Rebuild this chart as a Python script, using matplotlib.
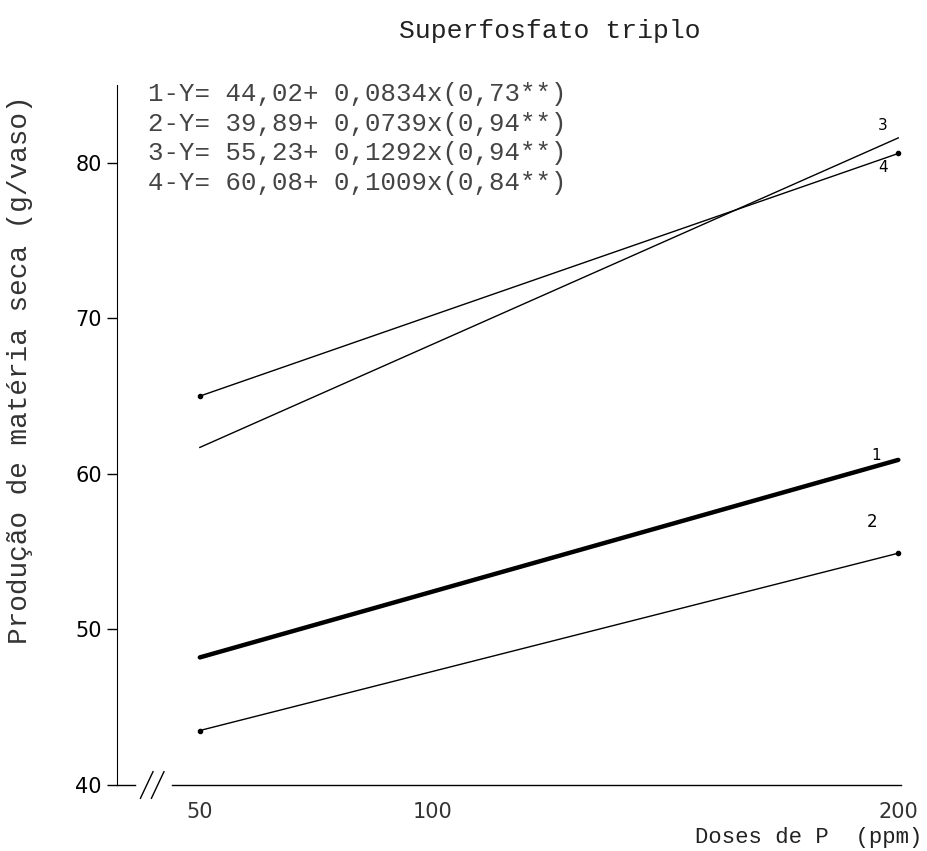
import matplotlib.pyplot as plt

doses = [50, 200]
y1 = [48.2, 60.9]
y2 = [43.5, 54.9]
y3 = [61.7, 81.6]
y4 = [65.0, 80.6]

equations = ["1-Y= 44,02+ 0,0834x(0,73**)",
             "2-Y= 39,89+ 0,0739x(0,94**)",
             "3-Y= 55,23+ 0,1292x(0,94**)",
             "4-Y= 60,08+ 0,1009x(0,84**)"]

mono = "Liberation Mono"

fig = plt.figure(figsize=(9.28, 8.51), dpi=100)
ax = fig.add_axes([0.126, 0.0776, 0.845, 0.8225])

ax.plot(doses, y1, color='k', lw=3.2, solid_capstyle='round')
ax.plot(doses, y2, color='k', lw=1.0, marker='o', ms=3)
ax.plot(doses, y3, color='k', lw=1.0)
ax.plot(doses, y4, color='k', lw=1.0, marker='o', ms=3)

# curve numbers at the right end
ax.text(195.3, 61.2, "1", fontsize=11, ha='center', va='center')
ax.text(194.4, 56.9, "2", fontsize=12, ha='center', va='center')
ax.text(196.6, 82.4, "3", fontsize=11, ha='center', va='center')
ax.text(196.8, 79.7, "4", fontsize=11, ha='center', va='center')

ax.set_xlim(32.2, 200.6)
ax.set_ylim(40, 85)
ax.set_xticks([50, 100, 200])
ax.set_xticklabels(["50", "100", "200"], fontsize=15, color='#333333')
ax.set_yticks([40, 50, 60, 70, 80])
ax.tick_params(axis='x', length=0, pad=12)
ax.tick_params(axis='y', length=7, width=1, labelsize=15, pad=4)

ax.spines['top'].set_visible(False)
ax.spines['right'].set_visible(False)
ax.spines['bottom'].set_visible(False)

# broken x axis
ax.plot([0, 0.023], [0, 0], transform=ax.transAxes, color='k', lw=1, clip_on=False)
ax.plot([0.070, 1], [0, 0], transform=ax.transAxes, color='k', lw=1, clip_on=False)
for dx in (0.038, 0.052):
    ax.plot([dx - 0.008, dx + 0.008], [-0.019, 0.019], transform=ax.transAxes,
            color='k', lw=1, clip_on=False)

for i, eq in enumerate(equations):
    fig.text(0.1595, 1 - (94 + 29.7 * i) / 851, eq, fontsize=18.5,
             family=mono, va='center', color='#444444')

fig.text(0.593, 0.964, "Superfosfato triplo", fontsize=19, family=mono,
         ha='center', va='center', color='#222222')
fig.text(0.022, 0.566, "Produção de matéria seca (g/vaso)", fontsize=20,
         family=mono, rotation=90, ha='center', va='center', color='#333333')
fig.text(0.9935, 0.0153, "Doses de P  (ppm)", fontsize=16, family=mono,
         ha='right', va='center', color='#222222')

fig.savefig("out.png", dpi=100)
